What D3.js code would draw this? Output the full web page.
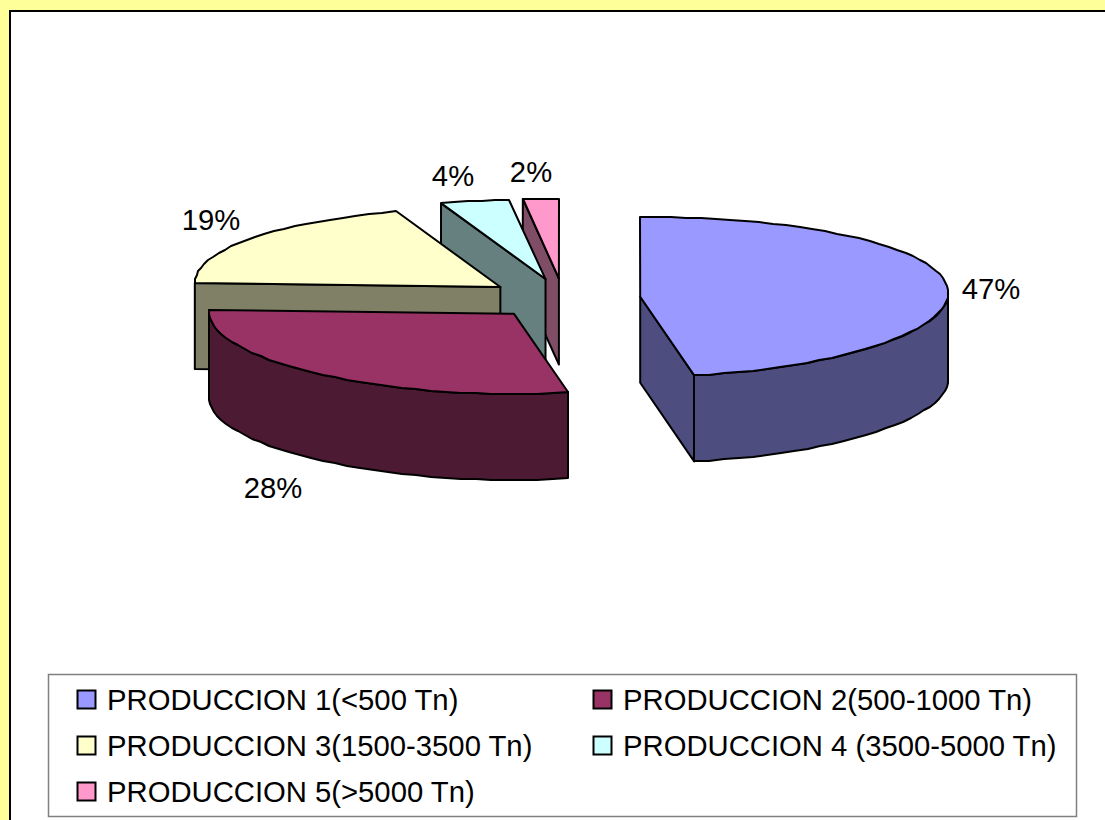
<!DOCTYPE html>
<html>
<head>
<meta charset="utf-8">
<script src="https://cdn.jsdelivr.net/npm/d3@7"></script>
<style>
  html, body { margin: 0; padding: 0; background: #ffff99; overflow: hidden; }
  text { font-family: "Liberation Sans", Arial, sans-serif; fill: #000; }
</style>
</head>
<body>
<svg id="chart" width="1105" height="820"></svg>
<script>
// Chart values
const categories = ["PRODUCCION 1(<500 Tn)", "PRODUCCION 2(500-1000 Tn)", "PRODUCCION 3(1500-3500 Tn)", "PRODUCCION 4 (3500-5000 Tn)", "PRODUCCION 5(>5000 Tn)"];
const shares = [47.2, 27.8, 19.4, 3.7, 1.9];
const topColors = ["#9999ff", "#993366", "#ffffcc", "#ccffff", "#ff99cc"];
const wallColors = ["#4d4d80", "#4d1a33", "#808066", "#668080", "#804d66"];

const svg = d3.select("#chart");

// Frame: yellow page with a white plot area and black top/left edge
svg.append("rect").attr("width", 1105).attr("height", 820).attr("fill", "#ffff99");
svg.append("rect").attr("x", 10).attr("y", 11).attr("width", 1200).attr("height", 900)
    .attr("fill", "#fff").attr("stroke", "#000").attr("stroke-width", 2);

///// PIE GEOMETRY /////
const cx = 563.5, cy = 298.5, rx = 308, ry = 80, depth = 86, explode = 77, flatten = 4;
const arcs = d3.pie().sort(null).value(d => d)(shares);

// position on the tilted ellipse, theta clockwise from 12 o'clock
// the left half is a little narrower towards the back, as in the original perspective
function project(theta, r, c, drop) {
    const s = Math.sin(theta), co = Math.cos(theta);
    const narrow = s < 0 ? 1 - 0.008 * (1 + co) : 1;
    return [c[0] + r * rx * narrow * s, c[1] - r * ry * co - r * flatten * s * s + drop];
}
const line = d3.line();
// the rim is snapped to whole pixels, it gives the rough outline of the original
function rim(a0, a1, c, drop) {
    const n = Math.max(2, Math.ceil((a1 - a0) / 0.05));
    return d3.range(n + 1).map(function(i) {
        const p = project(a0 + (a1 - a0) * i / n, 1, c, drop);
        return [Math.round(p[0]), Math.round(p[1])];
    });
}

// draw from back to front so nearer slices cover the walls behind them
const drawOrder = [4, 3, 2, 1, 0];
const g = svg.append("g").attr("stroke", "#000").attr("stroke-width", 2).attr("stroke-linejoin", "round");

drawOrder.forEach(function(i) {
    const d = arcs[i];
    const mid = (d.startAngle + d.endAngle) / 2;
    const c = [cx + explode * Math.sin(mid), cy - explode * ry / rx * Math.cos(mid)];
    const apex = project(0, 0, c, 0);
    const apexLow = project(0, 0, c, depth);

    // cut faces that look towards the viewer
    [d.startAngle, d.endAngle].forEach(function(a) {
        const isStart = a === d.startAngle;
        const visible = isStart ? Math.sin(a) < -0.01 : Math.sin(a) > 0.01;
        if (!visible) return;
        const p = project(a, 1, c, 0), q = project(a, 1, c, depth);
        g.append("path").attr("d", line([apex, p, q, apexLow]) + "Z").attr("fill", wallColors[i]);
    });

    // outer wall, only the part on the near half
    const w0 = Math.max(d.startAngle, Math.PI / 2), w1 = Math.min(d.endAngle, Math.PI * 1.5);
    if (w1 > w0) {
        const upper = rim(w0, w1, c, 0), lower = rim(w0, w1, c, depth).reverse();
        g.append("path").attr("d", line(upper.concat(lower)) + "Z").attr("fill", wallColors[i]);
    }

    // top surface
    g.append("path").attr("d", line([apex].concat(rim(d.startAngle, d.endAngle, c, 0))) + "Z").attr("fill", topColors[i]);
});

///// DATA LABELS /////
const labelX = [991, 273, 211, 453, 531];
const labelY = [299, 498, 230, 186, 182];
const labelFont = 29.25;
arcs.forEach(function(d, i) {
    svg.append("text")
        .attr("x", labelX[i]).attr("y", labelY[i])
        .attr("text-anchor", "middle")
        .style("font-size", labelFont + "px")
        .text(Math.round(d.value) + "%");
});

///// LEGEND /////
svg.append("rect").attr("x", 48.5).attr("y", 674.5).attr("width", 1028).attr("height", 142)
    .attr("fill", "#fff").attr("stroke", "#808080").attr("stroke-width", 1.5);
const legendCols = [77, 593];
const legendRows = [690, 736, 782];
categories.forEach(function(name, i) {
    const col = legendCols[i % 2], row = legendRows[Math.floor(i / 2)];
    svg.append("rect").attr("x", col + 0.5).attr("y", row + 0.5).attr("width", 18).attr("height", 18)
        .attr("fill", topColors[i]).attr("stroke", "#000").attr("stroke-width", 2);
    svg.append("text").attr("x", col + 30).attr("y", row + 20)
        .style("font-size", labelFont + "px")
        .text(name);
});
</script>
</body>
</html>
